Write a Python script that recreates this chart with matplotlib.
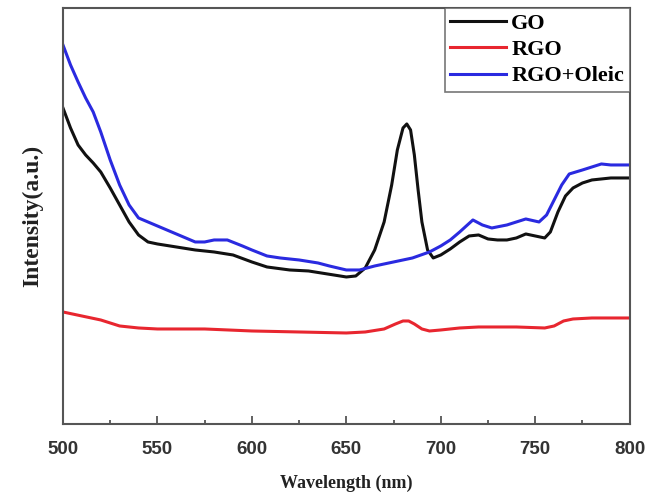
import matplotlib
matplotlib.use("Agg")
import matplotlib.pyplot as plt
from matplotlib.ticker import MultipleLocator

go_x = [500, 504, 508, 512, 516, 520, 525, 530, 535, 540, 545, 550, 560, 570, 580, 590, 600, 608, 620, 630,
        640, 650, 655, 660, 665, 670, 674, 677, 680, 682, 684, 686, 688, 690, 693, 696, 700, 705, 710, 715,
        720, 725, 730, 735, 740, 745, 750, 755, 758, 762, 766, 770, 775, 780, 790, 800]
go_y = [316, 296, 279, 269, 261, 252, 236, 219, 202, 189, 182, 180, 177, 174, 172, 169, 162, 157, 154, 153,
        150, 147, 148, 156, 174, 202, 239, 274, 296, 300, 294, 269, 234, 202, 174, 166, 169, 175, 182, 188,
        189, 185, 184, 184, 186, 190, 188, 186, 192, 212, 228, 236, 241, 244, 246, 246]

rgo_x = [500, 510, 520, 530, 540, 550, 575, 600, 625, 650, 660, 670, 676, 680, 683, 686, 690, 694, 700, 710,
         720, 740, 755, 760, 765, 770, 780, 800]
rgo_y = [112, 108, 104, 98, 96, 95, 95, 93, 92, 91, 92, 95, 100, 103, 103, 100, 95, 93, 94, 96,
         97, 97, 96, 98, 103, 105, 106, 106]

ole_x = [500, 504, 508, 512, 516, 520, 525, 530, 535, 540, 545, 550, 555, 560, 565, 570, 575, 580, 587, 595,
         600, 608, 615, 625, 635, 641, 650, 657, 665, 675, 685, 694, 700, 705, 710, 717, 722, 727, 735, 740,
         745, 752, 756, 760, 764, 768, 775, 780, 785, 790, 800]
ole_y = [379, 359, 342, 326, 312, 292, 264, 239, 219, 206, 202, 198, 194, 190, 186, 182, 182, 184, 184, 178,
         174, 168, 166, 164, 161, 158, 154, 154, 158, 162, 166, 172, 178, 184, 192, 204, 199, 196, 199, 202,
         205, 202, 209, 224, 239, 250, 254, 257, 260, 259, 259]

labels = ["GO", "RGO", "RGO+Oleic"]
colors = ["#111111", "#e8262f", "#2a2ae0"]

fig = plt.figure(figsize=(6.58, 4.97), dpi=100)
ax = fig.add_axes([0.0957, 0.1469, 0.8613, 0.8371])

ax.plot(go_x, go_y, color=colors[0], lw=2.2, label=labels[0])
ax.plot(rgo_x, rgo_y, color=colors[1], lw=2.2, label=labels[1])
ax.plot(ole_x, ole_y, color=colors[2], lw=2.2, label=labels[2])

ax.set_xlim(500, 800)
ax.set_ylim(0, 416)
ax.set_yticks([])
ax.xaxis.set_major_locator(MultipleLocator(50))
ax.xaxis.set_minor_locator(MultipleLocator(25))
ax.tick_params(axis='x', which='major', direction='in', length=6, width=1.3, color='#555555',
               labelsize=13.5, labelcolor='#333333', pad=12)
ax.tick_params(axis='x', which='minor', direction='in', length=3, width=1.3, color='#555555')
for lab in ax.get_xticklabels():
    lab.set_fontfamily('Liberation Sans')
    lab.set_fontweight('bold')
for s in ax.spines.values():
    s.set_color('#555555')
    s.set_linewidth(1.5)

ax.set_xlabel("Wavelength (nm)", fontfamily='Liberation Serif', fontweight='bold', fontsize=13,
              color='#222222', labelpad=12)
ax.set_ylabel("Intensity(a.u.)", fontfamily='Liberation Serif', fontweight='bold', fontsize=17,
              color='#222222', labelpad=14)

leg = ax.legend(loc='upper right', prop={'family': 'Liberation Serif', 'weight': 'bold', 'size': 16},
                frameon=True, fancybox=False, edgecolor='#555555', borderaxespad=0,
                handlelength=2.5, handletextpad=0.25, labelspacing=0.25, borderpad=0.25)
leg.get_frame().set_linewidth(1.2)

fig.savefig("out.png", dpi=100)
